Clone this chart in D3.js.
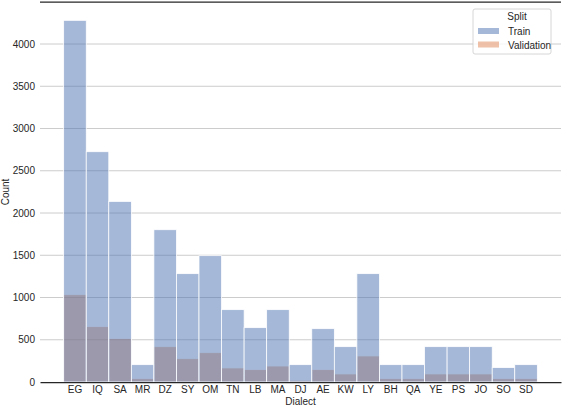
<!DOCTYPE html>
<html>
<head>
<meta charset="utf-8">
<script src="https://cdn.jsdelivr.net/npm/d3@7"></script>
<style>
  body { margin: 0; background: #fff; }
  text { font-family: "Liberation Sans", Arial, sans-serif; fill: #262626; }
</style>
</head>
<body>
<div id="chart"></div>
<script>
// data
var dialects = ["EG","IQ","SA","MR","DZ","SY","OM","TN","LB","MA","DJ","AE","KW","LY","BH","QA","YE","PS","JO","SO","SD"];
var trainCounts = [4280,2725,2137,205,1802,1282,1495,856,643,856,205,631,418,1282,205,205,418,418,418,170,205];
var validCounts = [1033,655,513,39,418,276,347,166,146,189,20,146,95,308,39,39,95,95,95,39,39];
var yTicks = [0,500,1000,1500,2000,2500,3000,3500,4000];
var splits = ["Train","Validation"];
var colors = { Train: "#4c72b0", Validation: "#dd8452" };

var dim = {
    width: 562, height: 406,
    margin: { top: 2, right: 1, bottom: 24, left: 40 }
};
dim.plot = {
    width: dim.width - dim.margin.left - dim.margin.right,
    height: dim.height - dim.margin.top - dim.margin.bottom
};

var x = d3.scaleBand()
        .domain(dialects)
        .range([0, dim.plot.width])
        .paddingInner(0)
        .paddingOuter(1.05);

var y = d3.scaleLinear()
        .domain([0, 4500])
        .range([dim.plot.height, dim.plot.height - 4500 * 0.0845]);

var svg = d3.select("#chart").append("svg")
        .attr("width", dim.width)
        .attr("height", dim.height);

var g = svg.append("g")
        .attr("transform", "translate(" + dim.margin.left + "," + dim.margin.top + ")");

// grid
g.append("g").selectAll("line").data(yTicks.slice(1))
    .enter().append("line")
        .attr("x1", 0).attr("x2", dim.plot.width)
        .attr("y1", function(d) { return y(d); })
        .attr("y2", function(d) { return y(d); })
        .attr("stroke", "#cccccc")
        .attr("stroke-width", 1);

// validation drawn first, train on top
var layers = [
    { name: "Validation", values: validCounts },
    { name: "Train", values: trainCounts }
];
layers.forEach(function(layer) {
    g.append("g").attr("class", "bars " + layer.name)
        .selectAll("rect").data(layer.values)
        .enter().append("rect")
            .attr("x", function(d, i) { return x(dialects[i]); })
            .attr("y", function(d) { return y(d); })
            .attr("width", x.bandwidth())
            .attr("height", function(d) { return y(0) - y(d); })
            .attr("fill", colors[layer.name])
            .attr("fill-opacity", 0.5)
            .attr("stroke", "#fff")
            .attr("stroke-width", 0.75);
});

// spines: top and bottom only
g.append("line")
    .attr("x1", 0).attr("x2", dim.plot.width)
    .attr("y1", 0).attr("y2", 0)
    .attr("stroke", "#262626").attr("stroke-width", 1.25);

var xAxis = d3.axisBottom(x).tickSize(0).tickPadding(4);
var gx = g.append("g")
        .attr("transform", "translate(0," + dim.plot.height + ")")
        .call(xAxis);
gx.select(".domain").attr("stroke", "#262626").attr("stroke-width", 1.25);
gx.selectAll("text").style("font-size", "10px").attr("fill", "#262626");

var yAxis = d3.axisLeft(y).tickValues(yTicks).tickFormat(d3.format("d")).tickSize(0).tickPadding(5);
var gy = g.append("g").call(yAxis);
gy.select(".domain").remove();
gy.selectAll("text").style("font-size", "10px").attr("fill", "#262626");

// axis labels
g.append("text")
    .attr("x", dim.plot.width / 2)
    .attr("y", dim.plot.height + 23)
    .attr("text-anchor", "middle")
    .style("font-size", "10px")
    .text("Dialect");

g.append("text")
    .attr("transform", "translate(" + (-31) + "," + (dim.plot.height / 2) + ") rotate(-90)")
    .attr("text-anchor", "middle")
    .style("font-size", "10px")
    .text("Count");

// legend
var legend = svg.append("g").attr("transform", "translate(473,9)");
legend.append("rect")
    .attr("width", 78).attr("height", 45)
    .attr("rx", 2)
    .attr("fill", "#fff").attr("fill-opacity", 0.8)
    .attr("stroke", "#cccccc").attr("stroke-width", 0.8);
legend.append("text")
    .attr("x", 44).attr("y", 11)
    .attr("text-anchor", "middle")
    .style("font-size", "10px")
    .text("Split");
var items = legend.selectAll("g.item").data(splits)
    .enter().append("g")
        .attr("class", "item")
        .attr("transform", function(d, i) { return "translate(5," + (19 + i * 13.5) + ")"; });
items.append("rect")
    .attr("width", 21).attr("height", 6)
    .attr("fill", function(d) { return colors[d]; })
    .attr("fill-opacity", 0.5);
items.append("text")
    .attr("x", 30).attr("y", 7)
    .style("font-size", "10px")
    .text(function(d) { return d; });
</script>
</body>
</html>
